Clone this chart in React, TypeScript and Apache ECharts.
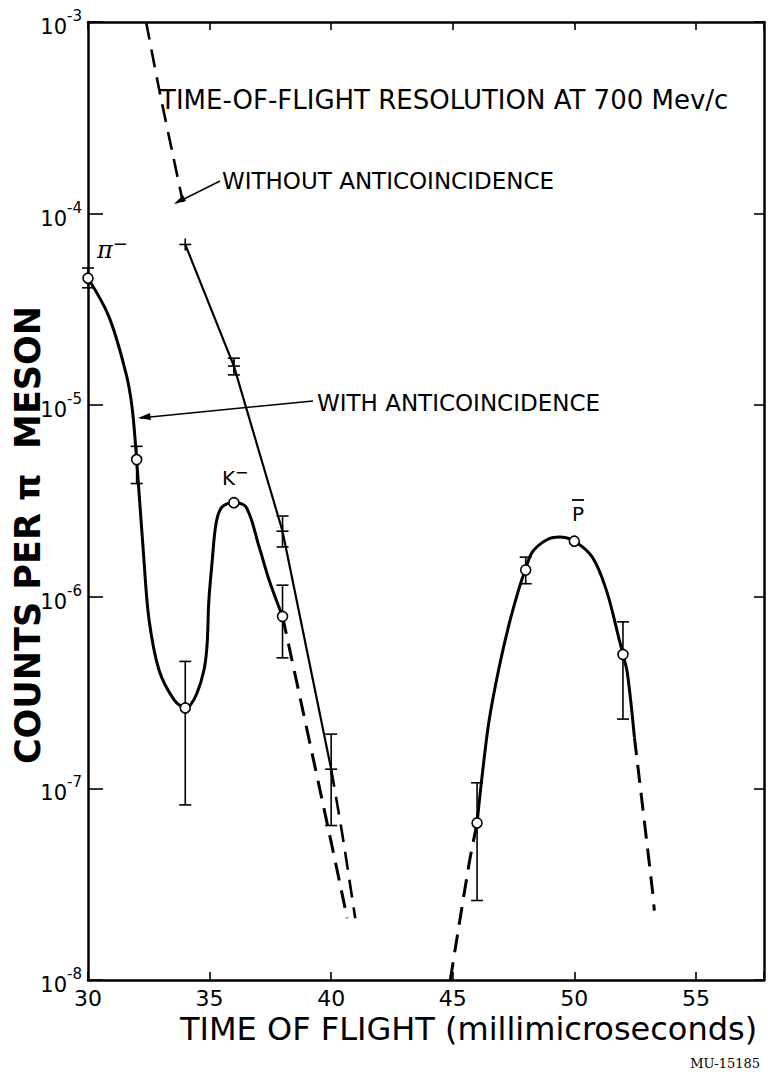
import React, { useEffect, useRef } from "react";
import * as echarts from "echarts";

// ---------- data ----------
const xTicks = [30, 35, 40, 45, 50, 55];
const yDecades = [-8, -7, -6, -5, -4, -3];

// with anticoincidence: measured points (open circles)
const withX = [30, 32, 34, 36, 38, 46, 48, 50, 52];
const withY = [4.6e-5, 5.2e-6, 2.63e-7, 3.1e-6, 7.9e-7, 6.6e-8, 1.38e-6, 1.95e-6, 5.0e-7];
// error bars [x, high, low]
const withErr = [
  [30, 5.2e-5, 4.1e-5],
  [32, 6.1e-6, 3.9e-6],
  [34, 4.6e-7, 8.2e-8],
  [38, 1.15e-6, 4.8e-7],
  [46, 1.07e-7, 2.6e-8],
  [48, 1.61e-6, 1.17e-6],
  [52, 7.4e-7, 2.3e-7],
];

// without anticoincidence: measured points (+)
const withoutX = [34, 36, 38, 40];
const withoutY = [6.9e-5, 1.6e-5, 2.2e-6, 1.26e-7];
const withoutErr = [
  [36, 1.76e-5, 1.44e-5],
  [38, 2.64e-6, 1.82e-6],
  [40, 1.92e-7, 6.4e-8],
];

// drawn curves
const curvePiK = [
  [30, 4.6e-5], [30.86, 2.9e-5], [31.56, 1.47e-5], [31.81, 9.8e-6], [32, 5.2e-6],
  [32.3, 1.56e-6], [32.51, 7.6e-7], [32.92, 4.15e-7], [33.54, 2.9e-7], [34, 2.63e-7],
  [34.77, 4.15e-7], [34.98, 1.0e-6], [35.1, 1.5e-6], [35.27, 2.43e-6], [35.51, 2.94e-6],
  [36, 3.1e-6], [36.5, 2.94e-6], [37.04, 1.82e-6], [37.45, 1.22e-6], [38, 7.9e-7],
];
const curveKTail = [[38, 7.9e-7], [39.92, 5.85e-8], [40.66, 2.1e-8]];
const curveWithoutHead = [[32.39, 1e-3], [32.95, 4.3e-4], [33.5, 2.0e-4], [33.9, 1.15e-4]];
const curveWithout = [[34, 6.9e-5], [36, 1.6e-5], [38, 2.2e-6], [40, 1.26e-7]];
const curveWithoutTail = [[40, 1.26e-7], [40.45, 5.85e-8], [40.99, 2.1e-8]];
const curvePHead = [[44.9, 1.0e-8], [45.68, 4.1e-8], [46, 6.6e-8]];
const curveP = [
  [46, 6.6e-8], [46.21, 1.17e-7], [46.5, 2.28e-7], [46.91, 4.3e-7], [47.33, 7.3e-7],
  [47.74, 1.12e-6], [48, 1.4e-6], [48.27, 1.71e-6], [48.85, 1.98e-6], [49.38, 2.05e-6],
  [50, 1.95e-6], [50.74, 1.61e-6], [51.32, 1.08e-6], [51.85, 5.95e-7], [52, 5.0e-7],
  [52.18, 4.0e-7], [52.47, 1.85e-7],
];
const curvePTail = [[52.47, 1.85e-7], [53.21, 2.95e-8], [53.29, 2.3e-8]];

const FONT = "'DejaVu Sans', 'Liberation Sans', sans-serif";

export default function App() {
  const ref = useRef<HTMLDivElement>(null);
  useEffect(() => {
    if (!ref.current) return;
    const chart = echarts.init(ref.current, null, { renderer: "svg" });

    const lineSeries = (data: number[][], width: number, dashed: boolean, smooth: number | boolean) => ({
      type: "line",
      data,
      smooth,
      symbol: "none",
      silent: true,
      lineStyle: { color: "#000", width, type: dashed ? [18, 10] : "solid" },
      z: 3,
    });

    const errRender = (params: any, api: any) => {
      const x = api.value(0);
      const top = api.coord([x, api.value(1)]);
      const bot = api.coord([x, api.value(2)]);
      const st = { stroke: "#000", lineWidth: 1.6 };
      return {
        type: "group",
        children: [
          { type: "line", shape: { x1: top[0], y1: top[1], x2: bot[0], y2: bot[1] }, style: st },
          { type: "line", shape: { x1: top[0] - 6, y1: top[1], x2: top[0] + 6, y2: top[1] }, style: st },
          { type: "line", shape: { x1: bot[0] - 6, y1: bot[1], x2: bot[0] + 6, y2: bot[1] }, style: st },
        ],
      };
    };

    const plusRender = (params: any, api: any) => {
      const p = api.coord([api.value(0), api.value(1)]);
      const st = { stroke: "#000", lineWidth: 1.6 };
      return {
        type: "group",
        children: [
          { type: "line", shape: { x1: p[0] - 6, y1: p[1], x2: p[0] + 6, y2: p[1] }, style: st },
          { type: "line", shape: { x1: p[0], y1: p[1] - 6, x2: p[0], y2: p[1] + 6 }, style: st },
        ],
      };
    };

    const yLabel = (v: number) => {
      const e = Math.round(Math.log10(v));
      if (!yDecades.includes(e)) return "";
      return "{b|10}{s|" + e + "}";
    };

    const option: any = {
      animation: false,
      backgroundColor: "#fff",
      grid: { left: 88, right: 7, top: 22, bottom: 92 },
      xAxis: [
        {
          type: "value",
          min: 30,
          max: 57.8,
          interval: 5,
          axisLine: { onZero: false, lineStyle: { color: "#000", width: 2.5 } },
          axisTick: { inside: true, length: 8, lineStyle: { color: "#000", width: 1.6 } },
          axisLabel: {
            color: "#000",
            fontFamily: FONT,
            fontSize: 22,
            lineHeight: 22,
            margin: 7,
            formatter: (v: number) => (xTicks.includes(v) ? String(v) : ""),
          },
          splitLine: { show: false },
        },
        {
          type: "value",
          position: "top",
          min: 30,
          max: 57.8,
          interval: 5,
          axisLine: { onZero: false, lineStyle: { color: "#000", width: 2.5 } },
          axisTick: { inside: true, length: 8, lineStyle: { color: "#000", width: 1.6 } },
          axisLabel: { show: false },
          splitLine: { show: false },
        },
      ],
      yAxis: [
        {
          type: "log",
          logBase: 10,
          min: 1e-8,
          max: 1e-3,
          axisLine: { onZero: false, lineStyle: { color: "#000", width: 2.5 } },
          axisTick: { inside: true, length: 15, lineStyle: { color: "#000", width: 1.6 } },
          minorTick: { show: false },
          splitLine: { show: false },
          axisLabel: {
            color: "#000",
            margin: 6,
            formatter: yLabel,
            rich: {
              b: { fontFamily: FONT, fontSize: 21, lineHeight: 21, padding: [10, 0, 0, 0], color: "#000" },
              s: { fontFamily: FONT, fontSize: 15, lineHeight: 15, padding: [0, 0, 12, 0], color: "#000" },
            },
          },
        },
        {
          type: "log",
          logBase: 10,
          position: "right",
          min: 1e-8,
          max: 1e-3,
          axisLine: { onZero: false, lineStyle: { color: "#000", width: 2.5 } },
          axisTick: { inside: true, length: 10, lineStyle: { color: "#000", width: 1.6 } },
          axisLabel: { show: false },
          splitLine: { show: false },
        },
      ],
      series: [
        lineSeries(curvePiK, 3, false, 0.35),
        lineSeries(curveKTail, 3, true, 0.3),
        lineSeries(curveWithoutHead, 2.6, true, 0.3),
        lineSeries(curveWithout, 2.2, false, false),
        lineSeries(curveWithoutTail, 2.6, true, 0.3),
        lineSeries(curvePHead, 3, true, 0.3),
        lineSeries(curveP, 3, false, 0.35),
        lineSeries(curvePTail, 3, true, 0.3),
        {
          type: "custom",
          renderItem: errRender,
          data: withErr,
          encode: { x: 0, y: [1, 2] },
          silent: true,
          z: 4,
        },
        {
          type: "custom",
          renderItem: errRender,
          data: withoutErr,
          encode: { x: 0, y: [1, 2] },
          silent: true,
          z: 4,
        },
        {
          type: "custom",
          renderItem: plusRender,
          data: withoutX.map((x, i) => [x, withoutY[i]]),
          encode: { x: 0, y: 1 },
          silent: true,
          z: 5,
        },
        {
          type: "scatter",
          data: withX.map((x, i) => [x, withY[i]]),
          symbol: "circle",
          symbolSize: 10,
          itemStyle: { color: "#fff", opacity: 1, borderColor: "#000", borderWidth: 1.6 },
          silent: true,
          z: 6,
        },
      ],
      graphic: [
        {
          type: "text",
          x: 160,
          y: 100,
          style: {
            text: "TIME-OF-FLIGHT RESOLUTION AT 700 Mev/c",
            font: "26px " + FONT,
            fill: "#000",
            verticalAlign: "middle",
          },
        },
        {
          type: "text",
          x: 222,
          y: 181,
          style: { text: "WITHOUT ANTICOINCIDENCE", font: "23px " + FONT, fill: "#000", verticalAlign: "middle" },
        },
        { type: "line", shape: { x1: 220, y1: 181, x2: 176, y2: 203 }, style: { stroke: "#000", lineWidth: 1.5 } },
        { type: "polygon", shape: { points: [[174, 204], [183, 195], [186, 201]] }, style: { fill: "#000" } },
        {
          type: "text",
          x: 317,
          y: 403,
          style: { text: "WITH ANTICOINCIDENCE", font: "23px " + FONT, fill: "#000", verticalAlign: "middle" },
        },
        { type: "line", shape: { x1: 313, y1: 401, x2: 140, y2: 418 }, style: { stroke: "#000", lineWidth: 1.5 } },
        { type: "polygon", shape: { points: [[138, 418], [150, 413], [151, 420]] }, style: { fill: "#000" } },
        {
          type: "text",
          x: 97,
          y: 250,
          style: {
            text: "{p|π}{m|−}",
            verticalAlign: "middle",
            rich: {
              p: { font: "italic 24px 'DejaVu Serif', serif", fill: "#000" },
              m: { font: "18px " + FONT, fill: "#000", padding: [0, 0, 14, 0] },
            },
          },
        },
        {
          type: "text",
          x: 222,
          y: 478,
          style: {
            text: "{k|K}{m|−}",
            verticalAlign: "middle",
            rich: {
              k: { font: "20px " + FONT, fill: "#000" },
              m: { font: "16px " + FONT, fill: "#000", padding: [0, 0, 12, 0] },
            },
          },
        },
        {
          type: "text",
          x: 572,
          y: 514,
          style: { text: "P", font: "20px " + FONT, fill: "#000", verticalAlign: "middle" },
        },
        { type: "line", shape: { x1: 572, y1: 500, x2: 584, y2: 500 }, style: { stroke: "#000", lineWidth: 1.8 } },
        {
          type: "text",
          x: 28,
          y: 535,
          rotation: Math.PI / 2,
          style: {
            text: "COUNTS PER π  MESON",
            font: "bold 35px " + FONT,
            fill: "#000",
            align: "center",
            verticalAlign: "middle",
          },
        },
        {
          type: "text",
          x: 180,
          y: 1029,
          style: {
            text: "TIME OF FLIGHT (millimicroseconds)",
            font: "32px " + FONT,
            fill: "#000",
            verticalAlign: "middle",
          },
        },
        {
          type: "text",
          x: 760,
          y: 1063,
          style: {
            text: "MU-15185",
            font: "13px 'DejaVu Serif', serif",
            fill: "#000",
            align: "right",
            verticalAlign: "middle",
          },
        },
      ],
    };
    chart.setOption(option);
    return () => chart.dispose();
  }, []);
  return (
    <div
      ref={ref}
      style={{ position: "fixed", left: 0, top: 0, width: 771, height: 1072, background: "#fff" }}
    />
  );
}
